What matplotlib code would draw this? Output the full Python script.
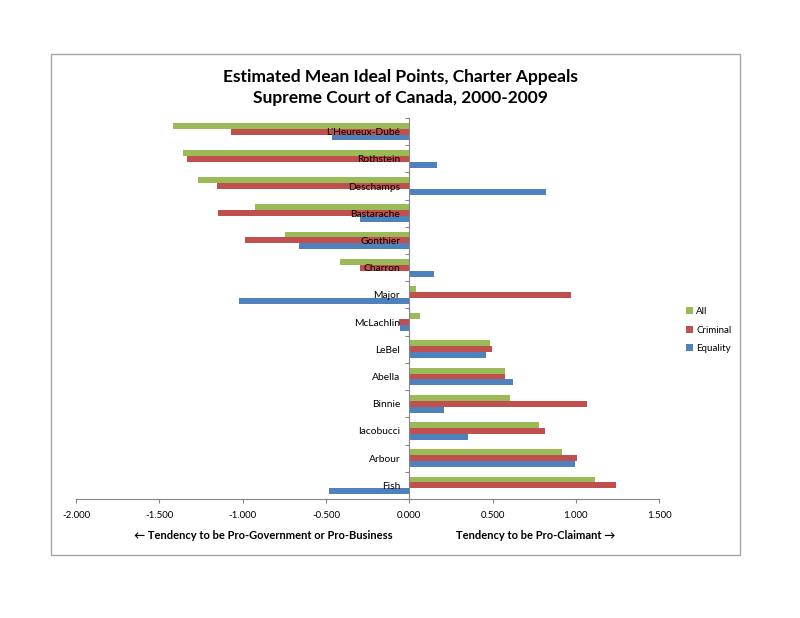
import matplotlib
matplotlib.use("Agg")
import matplotlib.pyplot as plt
import numpy as np

plt.rcParams['font.family'] = ['Lato', 'DejaVu Sans']

judges = ["L'Heureux-Dubé", "Rothstein", "Deschamps", "Bastarache", "Gonthier",
          "Charron", "Major", "McLachlin", "LeBel", "Abella", "Binnie",
          "Iacobucci", "Arbour", "Fish"]
all_vals = [-1.416, -1.356, -1.268, -0.924, -0.748, -0.416, 0.040, 0.064,
            0.484, 0.576, 0.604, 0.776, 0.916, 1.116]
criminal = [-1.071, -1.332, -1.152, -1.148, -0.984, -0.296, 0.968, -0.060,
            0.494, 0.572, 1.068, 0.812, 1.008, 1.240]
equality = [-0.466, 0.164, 0.820, -0.296, -0.660, 0.148, -1.022, -0.056,
            0.462, 0.620, 0.208, 0.352, 0.996, -0.480]
xticks = [-2.0, -1.5, -1.0, -0.5, 0.0, 0.5, 1.0, 1.5]

series = [("All", all_vals, "#9BBB59"),
          ("Criminal", criminal, "#C0504D"),
          ("Equality", equality, "#4F81BD")]

fig = plt.figure(figsize=(8, 6.18), dpi=100)
ax = fig.add_axes([0.095, 0.1926, 0.729, 0.6165])

n = len(judges)
y = np.arange(n)
h = 0.217
for i, (name, vals, col) in enumerate(series):
    ax.barh(y + (i - 1) * h, vals, height=h, color=col, label=name, zorder=1)

ax.set_axisbelow(False)
ax.set_xlim(-2.0, 1.5)
ax.set_ylim(n - 0.5, -0.5)
ax.set_xticks(xticks)
ax.set_xticklabels([f"{v:.3f}" for v in xticks], fontsize=7, color="#000000")

ax.spines['top'].set_visible(False)
ax.spines['right'].set_visible(False)
ax.spines['left'].set_position(('data', 0))
for s in ('left', 'bottom'):
    ax.spines[s].set_color('#868686')
    ax.spines[s].set_linewidth(0.8)
    ax.spines[s].set_zorder(3)

ax.set_yticks(np.arange(n + 1) - 0.5)
ax.set_yticklabels([])
ax.set_yticks(y, minor=True)
ax.set_yticklabels(judges, minor=True, fontsize=7.4)
ax.tick_params(axis='y', which='major', length=3, color='#868686', direction='out')
ax.tick_params(axis='y', which='minor', length=0, pad=6.5)
ax.tick_params(axis='x', length=3, color='#868686', direction='out', pad=6)
ax.xaxis.set_zorder(3)
ax.yaxis.set_zorder(3)

fig.text(0.5, 0.858, "Estimated Mean Ideal Points, Charter Appeals\nSupreme Court of Canada, 2000-2009",
         ha='center', va='center', fontsize=12.5, fontweight='bold', linespacing=1.38)

fig.text(0.329, 0.133, "\u2190 Tendency to be Pro-Government or Pro-Business",
         ha='center', va='center', fontsize=8, fontweight='bold')
fig.text(0.669, 0.133, "Tendency to be Pro-Claimant \u2192",
         ha='center', va='center', fontsize=8, fontweight='bold')

leg = ax.legend(loc='center left', bbox_to_anchor=(0.847, 0.466), bbox_transform=fig.transFigure,
                frameon=False, fontsize=7, handlelength=0.7, handleheight=0.7,
                handletextpad=0.3, labelspacing=1.0)

border = plt.Rectangle((51 / 800, 1 - 555 / 618), (740 - 51) / 800, (555 - 54) / 618,
                       transform=fig.transFigure, fill=False, edgecolor='#A6A6A6', linewidth=1.0)
fig.patches.append(border)

fig.savefig("out.png", dpi=100)
